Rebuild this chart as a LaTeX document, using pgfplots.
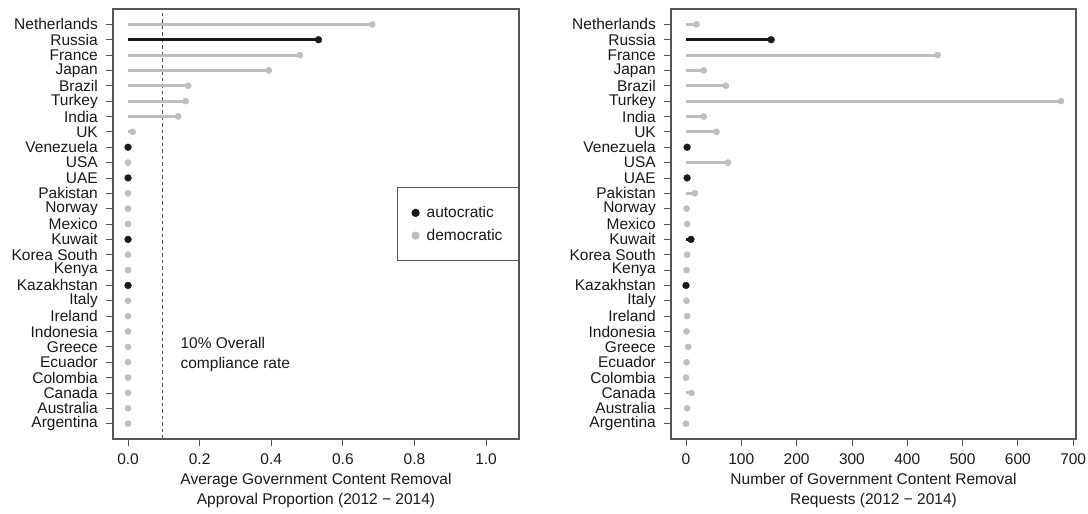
\documentclass[border=0pt]{standalone}
\usepackage{fontspec}
\setmainfont{Liberation Sans}
\usepackage{pgfplots}
\pgfplotsset{compat=1.18}
\definecolor{dem}{HTML}{BEBEBE}
\definecolor{aut}{HTML}{1A1A1A}
\definecolor{frame}{HTML}{555555}
\definecolor{tickc}{HTML}{555555}

\pgfplotsset{lolli/.style={
  scale only axis, height=430pt, ymin=0, ymax=28,
  ytick={1,...,27},
  yticklabels={Argentina,Australia,Canada,Colombia,Ecuador,Greece,Indonesia,Ireland,Italy,Kazakhstan,Kenya,Korea South,Kuwait,Mexico,Norway,Pakistan,UAE,USA,Venezuela,UK,India,Turkey,Brazil,Japan,France,Russia,Netherlands},
  tick align=outside, major tick length=7pt,
  tick style={tickc, line width=0.8pt},
  axis line style={frame, line width=1.1pt},
  xtick pos=bottom, ytick pos=left,
  clip=false,
  /pgf/number format/assume math mode=true,
  yticklabel style={inner sep=0pt, xshift=-8pt, text=black!90},
  xticklabel style={inner sep=0pt, yshift=-7pt, text=black!90},
  xlabel style={align=center, text=black!90, yshift=-6pt},
}}

\begin{document}
\begin{tikzpicture}[font=\fontsize{15.5}{20}\selectfont]
\path[use as bounding box] (0,0) rectangle (1088pt,514pt);

\begin{axis}[lolli, at={(113pt,75pt)}, anchor=south west, width=406pt,
  xmin=-0.042, xmax=1.092,
  xtick={0,0.2,0.4,0.6,0.8,1.0},
  xticklabel style={/pgf/number format/.cd, fixed, fixed zerofill, precision=1},
  xlabel={Average Government Content Removal\\Approval Proportion (2012 − 2014)},
  legend style={at={(1,0.586)}, anchor=north east, draw=frame, line width=1pt,
    inner xsep=14pt, inner ysep=17pt, row sep=6pt, text=black!90,
    /tikz/every odd column/.append style={column sep=5pt}},
  legend cell align=left,
]
\addplot[frame, line width=1pt, dash pattern=on 3.5pt off 3pt, forget plot] coordinates {(0.095,0) (0.095,28)};
\addplot[xcomb, dem, line width=3pt, mark=*, mark size=3.1pt, mark options={dem, solid, line width=0.4pt}, forget plot] coordinates {
(0.682,27) (0.480,25) (0.393,24) (0.168,23) (0.161,22) (0.140,21) (0.013,20)
(0,18) (0,16) (0,15) (0,14) (0,12) (0,11)
(0,9) (0,8) (0,7) (0,6) (0,5) (0,4) (0,3) (0,2) (0,1)
};
\addplot[xcomb, aut, line width=3pt, mark=*, mark size=3.4pt, mark options={aut, solid, line width=0.4pt}, forget plot] coordinates {
(0.532,26) (0,19) (0,17) (0,13) (0,10)
};
\node[anchor=west, align=left, text=black!90] at (axis cs:0.137,5.5) {10\% Overall\\compliance rate};
\addlegendimage{legend image code/.code={\fill[aut] (0pt,0pt) circle (3.6pt);}}
\addlegendentry{autocratic}
\addlegendimage{legend image code/.code={\fill[dem] (0pt,0pt) circle (3.6pt);}}
\addlegendentry{democratic}
\end{axis}

\begin{axis}[lolli, at={(671pt,75pt)}, anchor=south west, width=405pt,
  xmin=-27.1, xmax=705.1,
  xtick={0,100,...,700},
  xlabel={Number of Government Content Removal\\Requests (2012 − 2014)},
]
\addplot[xcomb, dem, line width=3pt, mark=*, mark size=3.1pt, mark options={dem, solid, line width=0.4pt}] coordinates {
(19,27) (455,25) (32,24) (72,23) (678,22) (32,21) (55,20)
(76,18) (16,16) (1,15) (2,14) (2,12) (1,11)
(1,9) (2,8) (1,7) (4,6) (1,5) (0,4) (10,3) (2,2) (0,1)
};
\addplot[xcomb, aut, line width=3pt, mark=*, mark size=3.4pt, mark options={aut, solid, line width=0.4pt}] coordinates {
(154,26) (2,19) (2,17) (9,13) (0,10)
};
\end{axis}
\end{tikzpicture}
\end{document}
